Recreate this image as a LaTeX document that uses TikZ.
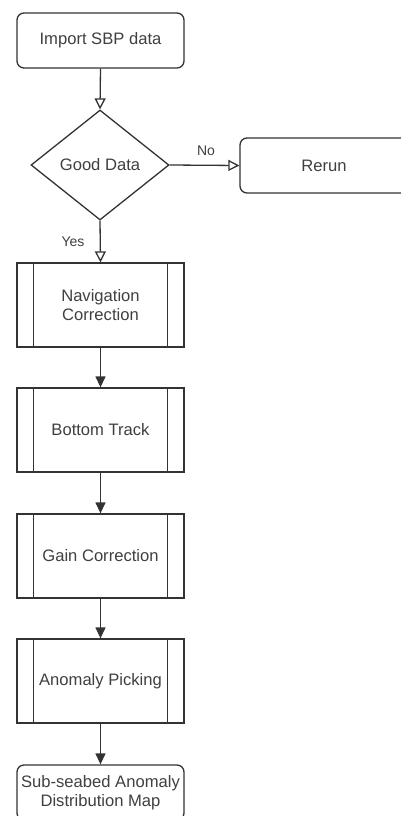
\documentclass[tikz,border=0pt]{standalone}
\usepackage{fontspec}
\setmainfont{Liberation Sans}
\usetikzlibrary{arrows.meta,shapes.geometric}
\definecolor{ln}{HTML}{333333}
\definecolor{tx}{HTML}{404040}
\tikzset{
  base/.style={draw=ln, line width=1.3pt, fill=white, text=tx, font=\fontsize{16.6}{19}\selectfont, align=center, inner sep=0pt},
  roundbox/.style={base, rectangle, rounded corners=7pt, minimum width=167pt, minimum height=55pt},
  procbox/.style={base, rectangle, minimum width=167pt, minimum height=84pt},
  decision/.style={base, diamond, minimum width=138pt, minimum height=110pt},
  openarrow/.style={draw=ln, line width=1.3pt, -{Triangle[open, length=11pt, width=11pt, line width=1.3pt]}},
  filledarrow/.style={draw=ln, line width=1.3pt, -{Triangle[length=11pt, width=10pt]}},
  lbl/.style={text=tx, font=\fontsize{14}{16}\selectfont, inner sep=0pt}
}
\newcommand{\sidebars}[1]{%
  \draw[ln, line width=1.3pt] ([xshift=17pt]#1.north west) -- ([xshift=17pt]#1.south west);
  \draw[ln, line width=1.3pt] ([xshift=-17pt]#1.north east) -- ([xshift=-17pt]#1.south east);}
\begin{document}
\begin{tikzpicture}[x=1pt, y=-1pt]
\useasboundingbox (0,0) rectangle (401,816);
\clip (0,0) rectangle (401,816);
\fill[white] (0,0) rectangle (401,816);
\node[roundbox] (imp) at (100.5,40.5) {Import SBP data};
\node[decision] (dec) at (100,165) {Good Data};
\node[roundbox, minimum width=168pt] (rerun) at (324,165.5) {Rerun};
\node[procbox] (nav) at (100.5,305) {Navigation\\Correction};
\node[procbox] (bot) at (100.5,430) {Bottom Track};
\node[procbox] (gain) at (100.5,556) {Gain Correction};
\node[procbox] (anom) at (100.5,681) {Anomaly Picking};
\node[roundbox] (map) at (100.5,792.5) {Sub-seabed Anomaly\\Distribution Map};
\sidebars{nav}
\sidebars{bot}
\sidebars{gain}
\sidebars{anom}
\draw[openarrow] (imp.south) -- (dec.north);
\draw[openarrow] (dec.east) -- (rerun.west);
\draw[openarrow] (dec.south) -- (nav.north);
\node[lbl] (no) at (206,151) {No};
\node[lbl] (yes) at (73,242) {Yes};
\draw[filledarrow] (nav.south) -- (bot.north);
\draw[filledarrow] (bot.south) -- (gain.north);
\draw[filledarrow] (gain.south) -- (anom.north);
\draw[filledarrow] (anom.south) -- (map.north);
\end{tikzpicture}
\end{document}
